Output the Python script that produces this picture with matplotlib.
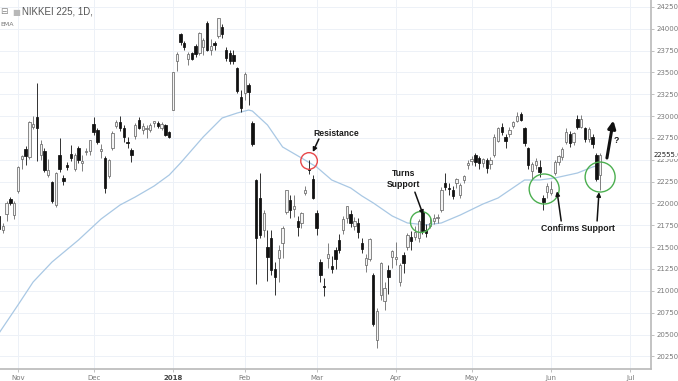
import numpy as np
import pandas as pd
import matplotlib
matplotlib.use('Agg')
import matplotlib.pyplot as plt
from matplotlib.patches import Ellipse


# ====================== DATA ======================
# Tokyo trading days, Oct 25 2017 .. Jun 20 2018
holidays = ['2017-11-03', '2017-11-23', '2018-01-01', '2018-01-02', '2018-01-03',
            '2018-01-08', '2018-02-12', '2018-03-21', '2018-04-30', '2018-05-03',
            '2018-05-04']
dates = pd.bdate_range('2017-10-25', '2018-06-20').drop(pd.to_datetime(holidays))

opens = [21860, 21700, 21880, 22050, 21870,
         22140, 22510, 22620, 22530, 22880, 22990, 22560, 22600, 22330, 22250,
         21980, 22560, 22290, 22440, 22570, 22390, 22640, 22460, 22585, 22600,
         22910, 22840, 22600, 22520, 22320, 22630, 22890, 22930, 22870, 22700,
         22610, 22770, 22960, 22840, 22850, 22840, 22920, 22920, 22860, 22900, 22820,
         23073, 23630, 23940, 23840, 23650, 23720, 23800, 23720, 23790, 24070,
         23760, 23840, 23920, 24020, 23760, 23720, 23700, 23550, 23220,
         23270, 23360, 22920, 22270, 22060, 21700, 21500, 21610, 21250, 21380,
         21550, 21900, 22040, 21940, 21800, 21780, 22120, 22400, 22280,
         21890, 21330, 21060, 21380, 21290, 21470, 21580, 21700, 21830, 21880,
         21740, 21780, 21550, 21300, 21360, 21180, 20440, 20950, 20880, 21240, 21390,
         21370, 21100, 21410, 21500, 21620, 21620, 21610, 21900, 21700, 21740,
         21800, 21830, 21930, 22240, 22180, 22150, 22230, 22100, 22270, 22440,
         22490, 22550, 22520, 22460, 22500, 22450, 22560, 22720, 22880, 22760,
         22800, 22890, 22950, 23020, 22860, 22630, 22370, 22440, 22420, 22060, 22130,
         22120, 22350, 22470, 22530, 22700, 22800, 22700, 22970, 22880, 22860,
         22740, 22760, 22560, 22330]
highs = [21900, 21780, 22030, 22080, 22030,
         22430, 22560, 22660, 22950, 23000, 23382, 22730, 22640, 22510, 22260,
         22360, 22750, 22330, 22470, 22670, 22580, 22660, 22560, 22640, 22730,
         22995, 22870, 22680, 22540, 22510, 22830, 22960, 23000, 22900, 22760,
         22640, 22920, 22990, 22920, 22900, 22920, 22950, 22940, 22930, 22910, 22830,
         23506, 23730, 23952, 23860, 23730, 23740, 23830, 23962, 23900, 24084,
         23880, 23860, 24129, 24050, 23790, 23760, 23760, 23560, 23300,
         23500, 23380, 22940, 22280, 22353, 21930, 21700, 21700, 21330, 21530,
         21740, 22152, 22100, 22100, 21860, 21900, 22200, 22502, 22330,
         21920, 21360, 21150, 21550, 21400, 21500, 21650, 21860, 21970, 21920,
         21850, 21830, 21600, 21420, 21600, 21200, 20800, 21330, 21100, 21300, 21470,
         21560, 21320, 21450, 21660, 21690, 21740, 21820, 21930, 21760, 21840,
         21880, 21880, 22190, 22350, 22230, 22200, 22290, 22240, 22330, 22500,
         22540, 22580, 22540, 22520, 22520, 22530, 22790, 22880, 22920, 22800,
         22880, 22950, 23050, 23050, 22880, 22650, 22470, 22520, 22500, 22100, 22240,
         22260, 22500, 22560, 22650, 22860, 22830, 22820, 23010, 23010, 22880,
         22880, 22790, 22580, 22580]
lows = [21700, 21665, 21800, 21980, 21820,
        22120, 22400, 22440, 22510, 22850, 22487, 22500, 22360, 22300, 22000,
        21960, 22360, 22210, 22380, 22490, 22370, 22460, 22370, 22550, 22560,
        22780, 22680, 22520, 22120, 22290, 22610, 22860, 22830, 22700, 22640,
        22470, 22740, 22850, 22800, 22750, 22820, 22880, 22860, 22840, 22770, 22750,
        23065, 23520, 23810, 23760, 23590, 23640, 23680, 23700, 23700, 23750,
        23700, 23760, 23900, 23900, 23630, 23600, 23600, 23260, 23050,
        23190, 23130, 22660, 21078, 21600, 21620, 21110, 21180, 20950, 21100,
        21380, 21880, 21830, 21850, 21630, 21720, 22100, 22340, 22050,
        21640, 21100, 20937, 21260, 21200, 21250, 21430, 21650, 21780, 21730,
        21700, 21600, 21430, 21220, 21340, 20600, 20347, 20900, 20780, 20960, 21260,
        21300, 21056, 21200, 21470, 21470, 21580, 21560, 21650, 21620, 21720,
        21760, 21780, 21900, 22150, 22100, 22050, 22180, 22060, 22230, 22400,
        22440, 22430, 22400, 22420, 22350, 22400, 22530, 22700, 22780, 22640,
        22760, 22860, 22930, 22940, 22660, 22390, 22280, 22400, 22300, 21930, 22060,
        22100, 22330, 22440, 22500, 22680, 22650, 22670, 22850, 22860, 22700,
        22700, 22640, 22260, 22160]
closes = [21707, 21739, 22008, 22011, 22011,
          22420, 22539, 22548, 22937, 22913, 22868, 22681, 22381, 22380, 22028,
          22351, 22397, 22261, 22416, 22523, 22550, 22495, 22486, 22597, 22724,
          22819, 22707, 22622, 22177, 22498, 22811, 22938, 22866, 22758, 22694,
          22553, 22901, 22868, 22891, 22866, 22902, 22939, 22892, 22911, 22783, 22764,
          23506, 23714, 23849, 23788, 23710, 23653, 23714, 23951, 23868, 23763,
          23808, 23816, 24124, 23940, 23669, 23631, 23629, 23291, 23098,
          23486, 23274, 22682, 21610, 21645, 21891, 21382, 21244, 21154, 21464,
          21720, 22149, 21925, 21970, 21736, 21892, 22153, 22389, 22068,
          21724, 21181, 21042, 21417, 21252, 21368, 21469, 21824, 21968, 21777,
          21803, 21676, 21480, 21380, 21591, 20617, 20766, 21317, 21031, 21159, 21454,
          21388, 21292, 21319, 21645, 21567, 21678, 21794, 21687, 21660, 21778,
          21835, 21847, 22158, 22191, 22162, 22088, 22278, 22215, 22319, 22467,
          22508, 22472, 22467, 22508, 22409, 22497, 22758, 22865, 22818, 22717,
          22838, 22930, 23002, 22960, 22689, 22437, 22450, 22481, 22358, 22018, 22202,
          22171, 22475, 22539, 22625, 22823, 22694, 22804, 22878, 22966, 22738,
          22851, 22680, 22278, 22555]

# EMA line at a few dates
ema_dates = ['2017-10-25', '2017-11-01', '2017-11-08', '2017-11-15', '2017-11-27',
             '2017-12-05', '2017-12-12', '2017-12-18', '2017-12-25', '2017-12-29',
             '2018-01-09', '2018-01-17', '2018-01-24', '2018-01-30', '2018-02-02',
             '2018-02-05', '2018-02-09', '2018-02-16', '2018-02-23', '2018-03-01',
             '2018-03-07', '2018-03-14', '2018-03-19', '2018-03-23', '2018-03-30',
             '2018-04-05', '2018-04-12', '2018-04-18', '2018-04-25', '2018-05-08',
             '2018-05-14', '2018-05-23', '2018-05-29', '2018-06-04', '2018-06-12',
             '2018-06-18', '2018-06-20']
ema_values = [20517, 20838, 21101, 21330, 21582,
              21823, 21983, 22074, 22200, 22326,
              22464, 22762, 22979, 23036, 23070,
              23059, 22899, 22647, 22521, 22418,
              22269, 22178, 22086, 22006, 21857,
              21777, 21754, 21777, 21868, 21994,
              22063, 22269, 22269, 22292, 22349,
              22418, 22441]

month_ticks = ['2017-11-01', '2017-12-01', '2018-01-04', '2018-02-01', '2018-03-01',
               '2018-04-02', '2018-05-01', '2018-06-01', '2018-07-02']
month_labels = ['Nov', 'Dec', '2018', 'Feb', 'Mar', 'Apr', 'May', 'Jun', 'Jul']
price_ticks = list(range(20250, 24251, 250))
last_price = 22555

# ====================== HELPERS ======================
future = pd.bdate_range('2018-06-21', '2018-07-31')
all_days = dates.append(future)


def day_index(d):
    return all_days.get_loc(pd.Timestamp(d))


# ====================== FIGURE ======================
W, H = 678, 381
fig = plt.figure(figsize=(W / 100, H / 100), dpi=100)
ax = fig.add_axes([0, 12 / H, 651 / W, 369 / H])

x = np.arange(len(dates))
o = np.array(opens, float)
h = np.array(highs, float)
l = np.array(lows, float)
c = np.array(closes, float)
up = c >= o

# wicks
ax.vlines(x[up], l[up], h[up], color='#6a6a6a', lw=0.6, zorder=2)
ax.vlines(x[~up], l[~up], h[~up], color='#111111', lw=0.6, zorder=2)
# bodies
ax.bar(x[up], c[up] - o[up], bottom=o[up], width=0.62, color='#f4f4f4',
       edgecolor='#6a6a6a', lw=0.55, zorder=3)
ax.bar(x[~up], o[~up] - c[~up], bottom=c[~up], width=0.62, color='#111111',
       edgecolor='#111111', lw=0.55, zorder=3)

# EMA
ema_x = [day_index(d) for d in ema_dates]
ax.plot(ema_x, ema_values, color='#a9c8e4', lw=0.9, zorder=1)

# axes
ax.set_xlim(0.24, 172.46)
ax.set_ylim(20105, 24330)
ax.set_xticks([day_index(d) for d in month_ticks])
ax.set_xticklabels(month_labels)
ax.set_yticks(price_ticks)
ax.set_yticklabels([f'{p:.2f}' for p in price_ticks])
ax.yaxis.tick_right()
ax.tick_params(axis='both', labelsize=5, colors='#b5b5b5', labelcolor='#7a7a7a',
               length=2.5, width=0.6, pad=1.5)
for lbl in ax.get_xticklabels():
    if lbl.get_text() == '2018':
        lbl.set_color('#444444')
        lbl.set_fontweight('bold')
for side in ['top', 'left']:
    ax.spines[side].set_visible(False)
for side in ['right', 'bottom']:
    ax.spines[side].set_color('#b9b9b9')
    ax.spines[side].set_linewidth(1.2)
ax.grid(color='#edf1f7', lw=0.7)
ax.set_axisbelow(True)

# last price label
ax.text(1.004, last_price, f'{last_price:.2f}', transform=ax.get_yaxis_transform(),
        fontsize=5, color='#222222', va='center', ha='left', zorder=10,
        bbox=dict(boxstyle='square,pad=0.15', fc='white', ec='none'), clip_on=False)

# header
fig.text(0.0, 1 - 12 / H, '\u229f', fontsize=6.5, color='#8a8a8a', va='center')
fig.text(12 / W, 1 - 12 / H, '\u25a0', fontsize=6, color='#b8b8b8', va='center')
fig.text(22 / W, 1 - 12 / H, 'NIKKEI 225, 1D,', fontsize=7, color='#555555',
         va='center', family='Liberation Sans')
fig.text(0.0, 1 - 24 / H, 'EMA', fontsize=4.5, color='#777777', va='center')

# ====================== ANNOTATIONS ======================
PX_X = 3.78    # pixels per bar
PX_Y = 11.45   # points per pixel
bold = dict(fontsize=6.2, fontweight='bold', color='#1a1a1a',
            family=['Liberation Sans', 'DejaVu Sans'], ha='center', va='center')


def circle(cx, cy, r_px, color):
    ax.add_patch(Ellipse((cx, cy), 2 * r_px / PX_X, 2 * r_px * PX_Y, fill=False,
                         ec=color, lw=1.0, zorder=6))


def arrow(x0, y0, x1, y1, lw=1.1, ms=6):
    ax.annotate('', xy=(x1, y1), xytext=(x0, y0),
                arrowprops=dict(arrowstyle='-|>', color='#111111', lw=lw,
                                mutation_scale=ms, shrinkA=0, shrinkB=0), zorder=7)


ax.text(89.1, 22807, 'Resistance', **bold)
arrow(84.6, 22739, 83.0, 22590)
circle(82.0, 22487, 8.3, '#e8474a')

ax.text(106.9, 22281, 'Turns\nSupport', linespacing=1.25, **bold)
arrow(110.0, 22130, 112.2, 21870)
circle(111.6, 21788, 10.5, '#4caf50')

circle(144.2, 22166, 15, '#4caf50')
circle(159.0, 22303, 15, '#4caf50')
ax.text(153.1, 21708, 'Confirms Support', **bold)
arrow(148.7, 21800, 147.6, 22140)
arrow(158.2, 21800, 158.7, 22130)

arrow(160.8, 22521, 162.5, 22950, lw=2.2, ms=11)
ax.text(163.4, 22716, '?', **bold)

fig.savefig('out.png', dpi=100)
